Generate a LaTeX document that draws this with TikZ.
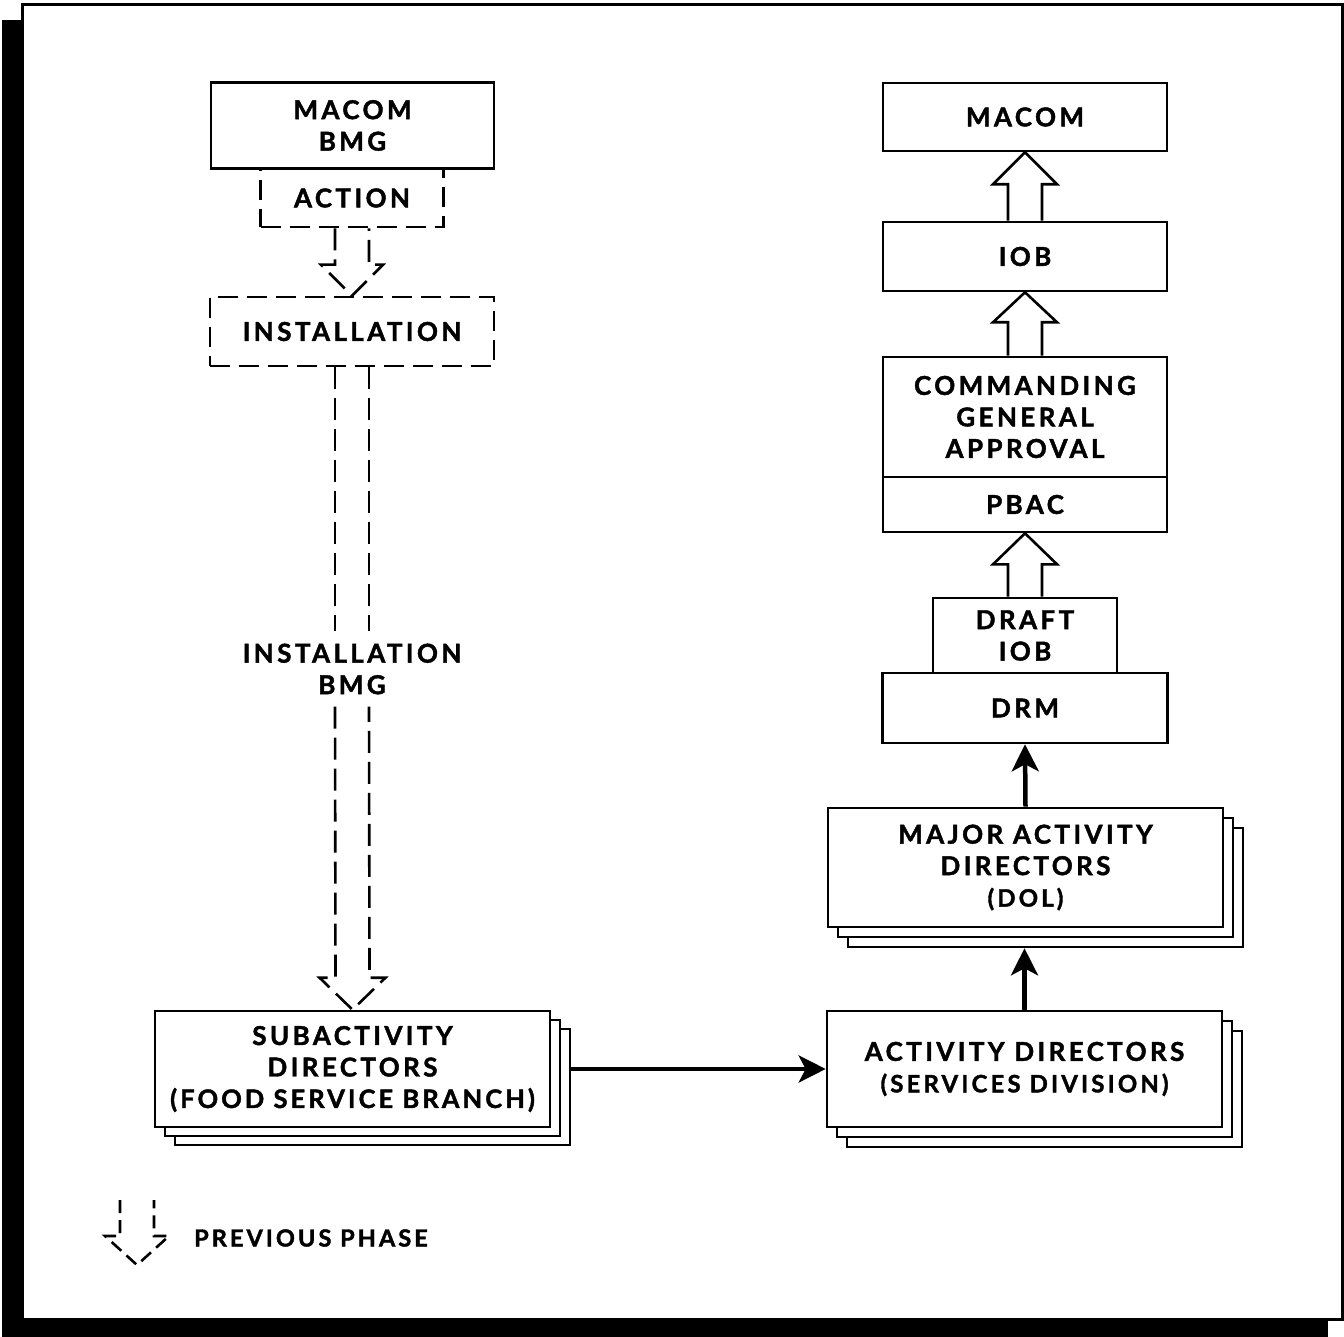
\documentclass[tikz,border=0pt]{standalone}
\usepackage{fontspec}
\setmainfont{Lato}
\usetikzlibrary{arrows.meta,calc}
\newcommand\mainlbl{\fontsize{26}{31.5}\selectfont\bfseries\addfontfeatures{LetterSpace=13,FakeBold=1.6}}
\newcommand\subalbl{\fontsize{25.5}{31.5}\selectfont\bfseries\addfontfeatures{LetterSpace=12,FakeBold=1.6}}
\newcommand\smalllbl{\fontsize{24}{31.5}\selectfont\bfseries\addfontfeatures{LetterSpace=13,FakeBold=1.6}}
\newcommand\leglbl{\fontsize{23.5}{26}\selectfont\bfseries\addfontfeatures{LetterSpace=13,FakeBold=1.6}}
\begin{document}
\begin{tikzpicture}[x=1pt,y=-1pt,
  box/.style={draw, line width=2.6pt, fill=white, align=center, inner sep=0pt, font=\mainlbl},
  dbox/.style={box, dash pattern=on 20pt off 9pt},
  hollow/.style={line width=2.6pt, line join=miter},
  dhollow/.style={hollow, dash pattern=on 22pt off 9pt},
  dlegend/.style={hollow, dash pattern=on 13pt off 7pt},
  solidarrow/.style={line width=4.5pt, -{Stealth[length=27pt,width=27pt,inset=7pt]}},
  plain/.style={align=center, inner sep=0pt, font=\mainlbl}
]
\useasboundingbox (0,0) rectangle (1344,1337);
% frame with shadow
\fill[black] (2,20) rectangle (1328,1337);
\draw[line width=3pt, fill=white] (22.5,4.5) rectangle (1342,1319);

% ---------- left column ----------
\node[dbox, minimum width=183pt, minimum height=58pt] (action) at (352,198) {ACTION};
\node[box, minimum width=283pt, minimum height=86pt] (macombmg) at (352.5,125.5) {MACOM\\BMG};
\node[dbox, minimum width=284pt, minimum height=69pt] (installation) at (352,331.5) {INSTALLATION};

\node[plain, inner ysep=12pt] (ibmg) at (352,669) {INSTALLATION\\BMG};

\node[box, minimum width=395pt, minimum height=116pt] (sub2) at (372.5,1087) {};
\node[box, minimum width=395pt, minimum height=116pt] (sub1) at (362.5,1078) {};
\node[box, minimum width=395pt, minimum height=116pt] (sub) at (352.5,1069) {SUBACTIVITY\\DIRECTORS\\{\subalbl (FOOD SERVICE BRANCH)}};

% dashed hollow arrow ACTION -> INSTALLATION
\draw[dhollow] ($(action.south)+(-17,0)$) -- ($(installation.north)+(-17,-31)$) -- ($(installation.north)+(-31,-31)$) -- (installation.north) -- ($(installation.north)+(31,-31)$) -- ($(installation.north)+(17,-31)$) -- ($(action.south)+(17,0)$);

% long dashed hollow arrow INSTALLATION -> SUBACTIVITY
\draw[dhollow] ($(installation.south)+(-17,0)$) -- ($(ibmg.north)+(-17,0)$);
\draw[dhollow] ($(installation.south)+(17,0)$) -- ($(ibmg.north)+(17,0)$);
\draw[dhollow] ($(ibmg.south)+(-17,0)$) -- ($(sub.north)+(-17,-32)$) -- ($(sub.north)+(-33,-32)$) -- (sub.north) -- ($(sub.north)+(33,-32)$) -- ($(sub.north)+(17,-32)$) -- ($(ibmg.south)+(17,0)$);

% ---------- right column ----------
\node[box, minimum width=284pt, minimum height=68pt] (macom) at (1025,117) {MACOM};
\node[box, minimum width=284pt, minimum height=69pt] (iob) at (1025,256.5) {IOB};
\node[box, minimum width=284pt, minimum height=120pt] (cg) at (1025,417) {COMMANDING\\GENERAL\\APPROVAL};
\node[box, minimum width=284pt, minimum height=55pt] (pbac) at (1025,504.5) {PBAC};
\node[box, minimum width=184pt, minimum height=75pt] (draftiob) at (1025,635.5) {DRAFT\\IOB};
\node[box, minimum width=285pt, minimum height=70pt] (drm) at (1025,708) {DRM};

\node[box, minimum width=395pt, minimum height=119pt] (major2) at (1045.5,887.5) {};
\node[box, minimum width=395pt, minimum height=119pt] (major1) at (1035.5,877.5) {};
\node[box, minimum width=395pt, minimum height=119pt] (major) at (1025.5,867.5) {MAJOR ACTIVITY\\DIRECTORS\\{\smalllbl (DOL)}};

\node[box, minimum width=395pt, minimum height=116pt] (act2) at (1044.5,1089) {};
\node[box, minimum width=395pt, minimum height=116pt] (act1) at (1034.5,1079) {};
\node[box, minimum width=395pt, minimum height=116pt] (act) at (1024.5,1069) {ACTIVITY DIRECTORS\\{\smalllbl (SERVICES DIVISION)}};

% hollow arrows
\draw[hollow] ($(draftiob.north)+(-17,0)$) -- ($(pbac.south)+(-17,31)$) -- ($(pbac.south)+(-32,31)$) -- (pbac.south) -- ($(pbac.south)+(32,31)$) -- ($(pbac.south)+(17,31)$) -- ($(draftiob.north)+(17,0)$);
\draw[hollow] ($(cg.north)+(-17,0)$) -- ($(iob.south)+(-17,30)$) -- ($(iob.south)+(-32,30)$) -- (iob.south) -- ($(iob.south)+(32,30)$) -- ($(iob.south)+(17,30)$) -- ($(cg.north)+(17,0)$);
\draw[hollow] ($(iob.north)+(-17,0)$) -- ($(macom.south)+(-17,32)$) -- ($(macom.south)+(-32,32)$) -- (macom.south) -- ($(macom.south)+(32,32)$) -- ($(macom.south)+(17,32)$) -- ($(iob.north)+(17,0)$);

% solid arrows
\draw[solidarrow] (sub2.east |- act.west) -- (act.west);
\draw[solidarrow] (act.north) -- (act.north |- major2.south);
\draw[solidarrow] (major.north) -- (drm.south);

% ---------- legend ----------
\coordinate (legtip) at (137,1265);
\draw[dlegend] ($(legtip)+(-17,-65)$) -- ($(legtip)+(-17,-29)$) -- ($(legtip)+(-32,-29)$) -- (legtip) -- ($(legtip)+(32,-29)$) -- ($(legtip)+(17,-29)$) -- ($(legtip)+(17,-65)$);
\node[anchor=west, inner sep=0pt, font=\leglbl] (legtext) at (194,1238) {PREVIOUS PHASE};
\end{tikzpicture}
\end{document}
